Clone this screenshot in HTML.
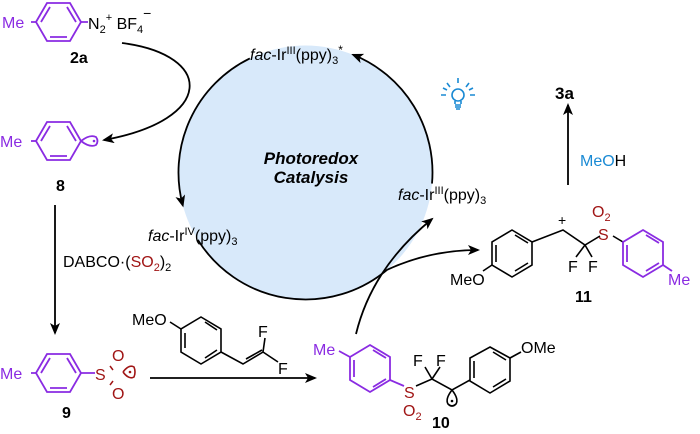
<!DOCTYPE html>
<html><head><meta charset="utf-8"><style>
html,body{margin:0;padding:0;background:#fff}
svg{display:block}
text{font-family:"Liberation Sans",Arial,sans-serif}
.p{fill:#8a2be2}.r{fill:#a01515}.b{font-weight:bold}
</style></head><body>
<svg width="700" height="434" viewBox="0 0 700 434" xmlns="http://www.w3.org/2000/svg" font-size="16">
<defs>
<marker id="ah" markerWidth="12" markerHeight="10" refX="10" refY="5" orient="auto" markerUnits="userSpaceOnUse">
<path d="M0,0 L12,5 L0,10 L3,5 Z" fill="#000"/></marker>
</defs>
<circle cx="305.5" cy="172.5" r="127" fill="#d8e9fa"/>
<g fill="none" stroke="#000" stroke-width="1.8">
<path d="M249.8,58.4 A127,127 0 0 0 182.8,205.4" marker-end="url(#ah)"/>
<path d="M432,183.6 A127,127 0 0 0 353.1,54.7" marker-end="url(#ah)"/>
<path d="M197.8,239.8 A127,127 0 0 0 387.1,269.8 Q430,250 478,250" marker-end="url(#ah)"/>
<path d="M356,334 Q372,268 432,219" marker-end="url(#ah)"/>
<path d="M122,43 C215,55 215,120 104,140" marker-end="url(#ah)"/>
<path d="M55,205 L55,333" marker-end="url(#ah)"/>
<path d="M150,378 L315,378" marker-end="url(#ah)"/>
<path d="M568,185 L568,105" marker-end="url(#ah)"/>
</g>
<text x="250" y="60"><tspan font-style="italic">fac</tspan>-Ir<tspan font-size="11" dy="-6">III</tspan><tspan dy="6">(ppy)</tspan><tspan font-size="11" dy="4">3</tspan><tspan font-size="12" dy="-10">*</tspan></text>
<text x="148" y="241"><tspan font-style="italic">fac</tspan>-Ir<tspan font-size="11" dy="-6">IV</tspan><tspan dy="6">(ppy)</tspan><tspan font-size="11" dy="4">3</tspan></text>
<text x="398" y="200"><tspan font-style="italic">fac</tspan>-Ir<tspan font-size="11" dy="-6">III</tspan><tspan dy="6">(ppy)</tspan><tspan font-size="11" dy="4">3</tspan></text>
<text x="311" y="164" text-anchor="middle" font-weight="bold" font-style="italic" font-size="17">Photoredox</text>
<text x="311" y="183" text-anchor="middle" font-weight="bold" font-style="italic" font-size="17">Catalysis</text>
<g stroke="#1a8ad4" stroke-width="1.6" fill="none">
<circle cx="458" cy="95" r="6"/>
<path d="M455,101 L455,104 M461,101 L461,104 M455,105 L461,105 M455,107 L461,107 M456,109 L460,109"/>
<path d="M458,78 L458,83 M447,83 L450,87 M469,83 L466,87 M441,95 L446,95 M470,95 L475,95 M443,88 L447,90 M473,88 L469,90"/>
</g>
<!-- 2a -->
<g stroke="#8a2be2" stroke-width="1.8" fill="none">
<polygon points="36,22 47,3 70,3 81,22 70,41 47,41"/>
<path d="M41,22 L50,7 M67,7 L76,22 M50,37 L67,37"/>
<path d="M31,22 L36,22 M81,22 L88,22"/>
</g>
<text x="2" y="28" class="p">Me</text>
<text x="88" y="29">N<tspan font-size="11" dy="4">2</tspan><tspan font-size="11" dy="-12">+</tspan><tspan dy="8"> BF</tspan><tspan font-size="11" dy="4">4</tspan><tspan font-size="14" dy="-15">−</tspan></text>
<text x="70" y="63" class="b">2a</text>
<!-- 8 -->
<g stroke="#8a2be2" stroke-width="1.8" fill="none">
<polygon points="36,141 47,122 70,122 81,141 70,160 47,160"/>
<path d="M41,141 L50,126 M67,126 L76,141 M50,156 L67,156"/>
<path d="M31,141 L36,141"/>
<path d="M81,141 Q90,134 96,137 Q99,141 96,145 Q90,148 81,141"/>
</g>
<circle cx="94" cy="141" r="1.3" fill="#8a2be2"/>
<text x="0" y="147" class="p">Me</text>
<text x="56" y="191" class="b">8</text>
<text x="63" y="267">DABCO·(<tspan class="r">SO</tspan><tspan class="r" font-size="11" dy="4">2</tspan><tspan dy="-4">)</tspan><tspan font-size="11" dy="4">2</tspan></text>
<!-- 9 -->
<g stroke="#8a2be2" stroke-width="1.8" fill="none">
<polygon points="36,373 47,354 70,354 81,373 70,392 47,392"/>
<path d="M41,373 L50,358 M67,358 L76,373 M50,388 L67,388"/>
<path d="M31,373 L36,373 M81,373 L95,373"/>
</g>
<text x="0" y="379" class="p">Me</text>
<text x="95" y="380" class="r">S</text>
<text x="112" y="361" class="r">O</text>
<text x="112" y="399" class="r">O</text>
<path d="M110,366 L113,370 M110,385 L113,381" stroke="#a01515" stroke-width="1.5"/>
<path d="M123,372 Q129,364 134,367 Q136,372 134,377 Q129,380 123,372" fill="none" stroke="#a01515" stroke-width="1.6"/>
<circle cx="130" cy="372" r="1.3" fill="#a01515"/>
<text x="62" y="418" class="b">9</text>
<!-- reagent -->
<g stroke="#000" stroke-width="1.6" fill="none">
<polygon points="201,317 221,329 221,352 201,364 181,352 181,329"/>
<path d="M205,322 L217,330 M217,350 L205,358 M185,333 L185,348"/>
<path d="M181,329 L170,322 M221,352 L243,364 L263,352 L265,338 M246,359 L262,350 M263,352 L278,362"/>
</g>
<text x="132" y="325">MeO</text>
<text x="258" y="337">F</text>
<text x="278" y="374">F</text>
<!-- 10 -->
<g stroke="#8a2be2" stroke-width="1.8" fill="none">
<polygon points="370,345 390,357 390,380 370,392 350,380 350,357"/>
<path d="M373,350 L386,358 M386,379 L373,387 M354,360 L354,377"/>
<path d="M350,357 L339,351 M390,380 L404,386"/>
</g>
<text x="313" y="355" class="p">Me</text>
<text x="404" y="398" class="r">S</text>
<text x="403" y="416" class="r">O<tspan font-size="11" dy="4">2</tspan></text>
<g stroke="#000" stroke-width="1.6" fill="none">
<path d="M416,386 L432,379 L452,390 L470,380 M432,379 L425,367 M432,379 L440,367"/>
<path d="M452,390 Q445,399 448,404 Q452,408 456,404 Q459,399 452,390"/>
<polygon points="490,347 510,358 510,381 490,393 470,381 470,358"/>
<path d="M493,352 L506,360 M506,379 L493,387 M474,361 L474,378"/>
<path d="M510,358 L521,352"/>
</g>
<circle cx="452" cy="401" r="1.3" fill="#000"/>
<text x="413" y="366">F</text>
<text x="436" y="366">F</text>
<text x="521" y="353">OMe</text>
<text x="432" y="428" class="b">10</text>
<!-- 11 -->
<g stroke="#000" stroke-width="1.6" fill="none">
<polygon points="512,230 532,242 532,265 512,277 492,265 492,242"/>
<path d="M515,235 L528,243 M528,263 L515,271 M496,245 L496,262"/>
<path d="M492,265 L483,271 M532,242 L563,230 L585,245 L600,236 M585,245 L576,257 M585,245 L592,257"/>
<path d="M613,236 L623,242"/>
</g>
<text x="558" y="225" font-size="14">+</text>
<text x="450" y="285">MeO</text>
<text x="568" y="272">F</text>
<text x="588" y="272">F</text>
<text x="598" y="240" class="r">S</text>
<text x="592" y="217" class="r">O<tspan font-size="11" dy="4">2</tspan></text>
<g stroke="#8a2be2" stroke-width="1.8" fill="none">
<polygon points="643,230 663,242 663,265 643,277 623,265 623,242"/>
<path d="M646,235 L659,243 M659,263 L646,271 M627,245 L627,262"/>
<path d="M663,265 L672,271"/>
</g>
<text x="668" y="285" class="p">Me</text>
<text x="575" y="302" class="b">11</text>
<text x="555" y="99" class="b" font-size="17">3a</text>
<text x="580" y="166"><tspan fill="#1a8ad4">MeO</tspan>H</text>
</svg>
</body></html>
